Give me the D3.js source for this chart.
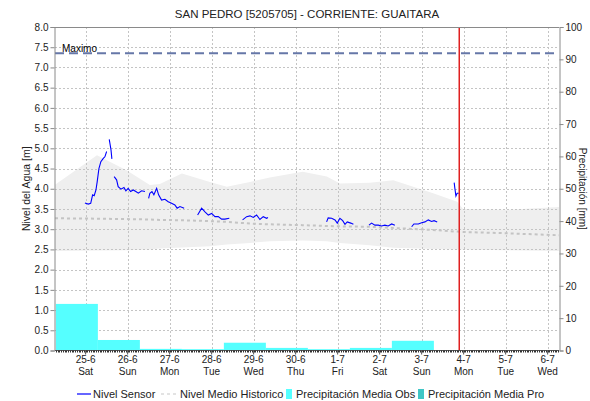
<!DOCTYPE html>
<html>
<head>
<meta charset="utf-8">
<script src="https://cdn.jsdelivr.net/npm/d3@7"></script>
<style>
  body { margin: 0; background: #fff; }
  svg { display: block; font-family: "Liberation Sans", Arial, sans-serif; }
</style>
</head>
<body>
<svg id="chart" width="590" height="401"></svg>
<script>
// ---- data ----
const chartTitle = "SAN PEDRO [5205705] - CORRIENTE: GUAITARA";
const leftTitle = "Nivel del Agua [m]";
const rightTitle = "Precipitación [mm]";
const baseTime = "2022-06-25T00:00";          // hour offsets below are counted from here
const viewStart = "2022-06-24T06:30";
const viewEnd = "2022-07-06T06:30";
const nowTime = "2022-07-03T21:30";
const maxLevel = 7.35;
const maxLabel = "Maximo";

// sensor readings: hours after baseTime, level in m (null = gap)
const sensorHours = [
  -0.4, 1.5, 2.9, 4.0, 4.9, 5.9, 6.6, 7.6, 8.7, 10.1, 11.0, 12.0, 12.7,
  13.5, 14.5, 15.0, 15.6,
  16.3, 17.7, 18.6, 20.2, 21.9, 23.0, 24.3, 25.7, 27.2, 28.7, 30.1, 32.0, 33.9, 35.0,
  36.0, 36.7, 37.9, 39.0, 40.6, 41.7, 43.4, 45.3, 47.2, 49.1, 51.0, 52.3, 53.9, 56.3, 60,
  64.0, 66.3, 68.2, 70.1, 72.0, 73.9, 75.8, 77.7, 79.6, 82.1, 86,
  89.7, 92.0, 93.9, 95.8, 97.7, 99.6, 101.5, 103.4, 104.2, 120,
  137.7, 138.6, 140.6, 142.5, 143.8, 145.3, 146.9, 148.2, 149.5, 151.5, 153.0, 158,
  161.9, 163.4, 165.3, 167.2, 169.1, 171.0, 172.9, 174.9, 176.7, 182,
  186.3, 187.6, 190.1, 192.0, 193.9, 195.8, 197.7, 199.1, 200.9, 206,
  210.6, 211.0, 211.6, 212.3, 213.2
];
const sensorLevels = [
  3.65, 3.62, 3.64, 3.85, 3.83, 3.97, 4.17, 4.50, 4.67, 4.75, 4.79, 4.92, null,
  5.22, 4.96, 4.74, null,
  4.30, 4.22, 4.05, 3.99, 4.03, 3.95, 4.01, 3.93, 3.97, 3.93, 3.89, 3.95, 3.93, null,
  3.76, 3.89, 3.93, 3.85, 4.01, 3.85, 3.72, 3.74, 3.68, 3.64, 3.60, 3.52, 3.56, 3.52, null,
  3.35, 3.52, 3.43, 3.35, 3.39, 3.31, 3.31, 3.25, 3.25, 3.27, null,
  3.23, 3.31, 3.33, 3.29, 3.35, 3.24, 3.31, 3.27, 3.29, null,
  3.18, 3.28, 3.27, 3.23, 3.15, 3.27, 3.21, 3.12, 3.18, 3.15, 3.12, null,
  3.10, 3.15, 3.10, 3.10, 3.08, 3.10, 3.08, 3.13, 3.10, null,
  3.06, 3.13, 3.13, 3.16, 3.18, 3.23, 3.19, 3.21, 3.18, null,
  4.15, 4.01, 3.82, 3.89, 3.89
];

// historical range and mean: hours after baseTime
const histHours = [-17.5, 6.5, 23.6, 36.7, 42.4, 55, 71, 80.7, 93.9, 105.3, 124, 137.8, 145.3, 162.4, 175.8, 198.6, 212.3, 215.7, 240, 270.5];
const histUpper = [4.10, 4.83, 4.45, 4.09, 4.12, 4.38, 4.17, 4.05, 4.17, 4.28, 4.42, 4.30, 4.13, 4.15, 4.21, 3.89, 3.68, 3.50, 3.48, 3.55];
const histLower = [2.46, 2.47, 2.48, 2.50, 2.52, 2.55, 2.58, 2.62, 2.66, 2.70, 2.72, 2.70, 2.66, 2.60, 2.54, 2.51, 2.50, 2.50, 2.48, 2.46];
const histMean  = [3.27, 3.26, 3.25, 3.24, 3.23, 3.22, 3.20, 3.18, 3.14, 3.12, 3.10, 3.08, 3.07, 3.06, 3.03, 2.98, 2.94, 2.93, 2.90, 2.85];

// daily precipitation (07:00 to 07:00), mm
const precipDays = ["2022-06-24", "2022-06-25", "2022-06-26", "2022-06-27", "2022-06-28",
                    "2022-06-29", "2022-06-30", "2022-07-01", "2022-07-02"];
const precipObs = [14.4, 3.25, 0.5, 0.4, 2.4, 0.8, 0.4, 0.8, 3.0];
const precipProDays = [];
const precipPro = [];

const legendItems = ["Nivel Sensor", "Nivel Medio Historico", "Precipitación Media Obs", "Precipitación Media Pro"];

// ---- layout ----
const plot = { left: 55, right: 559, top: 27, bottom: 350.5 };
const parse = d3.timeParse("%Y-%m-%dT%H:%M");
const base = parse(baseTime);
const atHour = h => new Date(base.getTime() + h * 3600e3);

const x = d3.scaleTime().domain([parse(viewStart), parse(viewEnd)]).range([plot.left, plot.right]);
const y = d3.scaleLinear().domain([0, 8]).range([plot.bottom, plot.top]);
const y2 = d3.scaleLinear().domain([0, 100]).range([plot.bottom, plot.top]);

const svg = d3.select("#chart");
svg.append("defs").append("clipPath").attr("id", "clip")
  .append("rect").attr("x", plot.left).attr("y", plot.top)
  .attr("width", plot.right - plot.left).attr("height", plot.bottom - plot.top);

const g = svg.append("g").attr("clip-path", "url(#clip)");

// historical band
const hist = histHours.map((h, i) => ({ t: atHour(h), lo: histLower[i], hi: histUpper[i], m: histMean[i] }));
g.append("path").datum(hist)
  .attr("fill", "#efefef")
  .attr("d", d3.area().x(d => x(d.t)).y0(d => y(d.lo)).y1(d => y(d.hi)));

// grid
const gridColor = "#c4c4c4";
g.append("g").selectAll("line").data(d3.range(0.5, 8, 0.5)).join("line")
  .attr("x1", plot.left).attr("x2", plot.right)
  .attr("y1", d => Math.round(y(d)) + 0.5).attr("y2", d => Math.round(y(d)) + 0.5)
  .attr("stroke", gridColor).attr("stroke-dasharray", "2,2");
const dayTicks = x.ticks(d3.timeDay.every(1));
g.append("g").selectAll("line").data(dayTicks).join("line")
  .attr("x1", d => Math.round(x(d)) + 0.5).attr("x2", d => Math.round(x(d)) + 0.5)
  .attr("y1", plot.top).attr("y2", plot.bottom)
  .attr("stroke", gridColor).attr("stroke-dasharray", "2,2");

// precipitation bars
const pDay = d3.timeParse("%Y-%m-%d");
const barsObs = precipDays.map((d, i) => ({ s: d3.timeHour.offset(pDay(d), 7), v: precipObs[i] }));
g.append("g").selectAll("rect").data(barsObs).join("rect")
  .attr("x", d => x(d.s)).attr("width", d => x(d3.timeDay.offset(d.s, 1)) - x(d.s))
  .attr("y", d => y2(d.v)).attr("height", d => plot.bottom - y2(d.v))
  .attr("fill", "#55ffff");
const barsPro = precipProDays.map((d, i) => ({ s: d3.timeHour.offset(pDay(d), 7), v: precipPro[i] }));
g.append("g").selectAll("rect").data(barsPro).join("rect")
  .attr("x", d => x(d.s)).attr("width", d => x(d3.timeDay.offset(d.s, 1)) - x(d.s))
  .attr("y", d => y2(d.v)).attr("height", d => plot.bottom - y2(d.v))
  .attr("fill", "#3fc6c6");

// historical mean
g.append("path").datum(hist)
  .attr("fill", "none").attr("stroke", "#c4c4c4").attr("stroke-width", 2)
  .attr("stroke-dasharray", "3,3")
  .attr("d", d3.line().x(d => x(d.t)).y(d => y(d.m)));

// sensor
const sensor = sensorHours.map((h, i) => ({ t: atHour(h), v: sensorLevels[i] }));
g.append("path").datum(sensor)
  .attr("fill", "none").attr("stroke", "#0000ff").attr("stroke-width", 1.1)
  .attr("d", d3.line().defined(d => d.v !== null).x(d => x(d.t)).y(d => y(d.v)));

// maximum level
g.append("line")
  .attr("x1", plot.left).attr("x2", plot.right)
  .attr("y1", y(maxLevel)).attr("y2", y(maxLevel))
  .attr("stroke", "#6677a8").attr("stroke-width", 2).attr("stroke-dasharray", "9,5");
svg.append("text").attr("x", 62).attr("y", y(maxLevel) - 1.5)
  .attr("font-size", 10).attr("fill", "#000").text(maxLabel);

// current time
g.append("line")
  .attr("x1", x(parse(nowTime))).attr("x2", x(parse(nowTime)))
  .attr("y1", plot.top).attr("y2", plot.bottom)
  .attr("stroke", "#e02020").attr("stroke-width", 1.5);

// frame
svg.append("line").attr("x1", plot.left).attr("x2", plot.right)
  .attr("y1", plot.top + 0.5).attr("y2", plot.top + 0.5).attr("stroke", "#8a8a8a");

// left axis
const axL = svg.append("g").attr("transform", `translate(${plot.left - 0.5},0)`)
  .call(d3.axisLeft(y).tickValues(d3.range(0, 8.01, 0.5)).tickFormat(d3.format(".1f")).tickSize(4).tickPadding(2));
axL.select(".domain").attr("stroke", "#8a8a8a");
axL.selectAll(".tick line").attr("stroke", "#8a8a8a");
axL.selectAll("text").attr("font-size", 10).attr("fill", "#222").attr("font-family", "Liberation Sans, Arial, sans-serif");

// right axis
const axR = svg.append("g").attr("transform", `translate(${plot.right + 0.5},0)`)
  .call(d3.axisRight(y2).tickValues(d3.range(0, 101, 10)).tickSize(4).tickPadding(2));
axR.select(".domain").attr("stroke", "#8a8a8a");
axR.selectAll(".tick line").attr("stroke", "#8a8a8a");
axR.selectAll("text").attr("font-size", 10).attr("fill", "#222").attr("font-family", "Liberation Sans, Arial, sans-serif");

// bottom axis with hourly minor ticks
const axB = svg.append("g").attr("transform", `translate(0,${plot.bottom})`);
axB.append("line").attr("x1", plot.left).attr("x2", plot.right).attr("stroke", "#555");
axB.selectAll("line.minor").data(x.ticks(d3.timeHour.every(1))).join("line")
  .attr("class", "minor")
  .attr("x1", d => Math.round(x(d)) + 0.5).attr("x2", d => Math.round(x(d)) + 0.5)
  .attr("y1", 0).attr("y2", 2).attr("stroke", "#333");
const fmtDay = d3.timeFormat("%-d-%-m"), fmtDow = d3.timeFormat("%a");
const lab = axB.selectAll("g.lab").data(dayTicks).join("g").attr("class", "lab")
  .attr("transform", d => `translate(${x(d)},0)`);
lab.append("line").attr("y1", 0).attr("y2", 4).attr("stroke", "#555");
lab.append("text").attr("y", 12.5).attr("text-anchor", "middle").attr("font-size", 10).attr("fill", "#222").text(fmtDay);
lab.append("text").attr("y", 24.5).attr("text-anchor", "middle").attr("font-size", 10).attr("fill", "#222").text(fmtDow);

// titles
svg.append("text").attr("x", 307).attr("y", 18).attr("text-anchor", "middle")
  .attr("font-size", 11.5).attr("fill", "#222").text(chartTitle);
svg.append("text").attr("transform", `translate(30,${(plot.top + plot.bottom) / 2}) rotate(-90)`)
  .attr("text-anchor", "middle").attr("font-size", 10.5).attr("fill", "#222").text(leftTitle);
svg.append("text").attr("transform", `translate(579,${(plot.top + plot.bottom) / 2}) rotate(90)`)
  .attr("text-anchor", "middle").attr("font-size", 10).attr("fill", "#222").text(rightTitle);

// legend
const lg = svg.append("g").attr("font-size", 11).attr("fill", "#222");
const ly = 398;
lg.append("line").attr("x1", 77).attr("x2", 91).attr("y1", ly - 4).attr("y2", ly - 4).attr("stroke", "#0000ff").attr("stroke-width", 1.2);
lg.append("text").attr("x", 93).attr("y", ly).text(legendItems[0]);
lg.append("line").attr("x1", 161).attr("x2", 177).attr("y1", ly - 4).attr("y2", ly - 4).attr("stroke", "#c8c8c8").attr("stroke-width", 1.2).attr("stroke-dasharray", "3,3");
lg.append("text").attr("x", 180).attr("y", ly).text(legendItems[1]);
lg.append("rect").attr("x", 286).attr("y", ly - 9).attr("width", 6).attr("height", 10).attr("fill", "#55ffff");
lg.append("text").attr("x", 296).attr("y", ly).text(legendItems[2]);
lg.append("rect").attr("x", 418).attr("y", ly - 9).attr("width", 6).attr("height", 10).attr("fill", "#3fc6c6");
lg.append("text").attr("x", 428).attr("y", ly).text(legendItems[3]);
</script>
</body>
</html>
